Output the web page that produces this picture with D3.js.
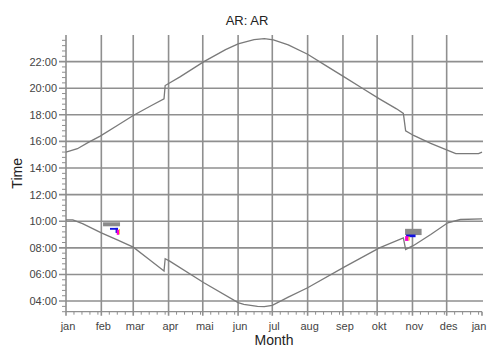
<!DOCTYPE html>
<html><head><meta charset="utf-8">
<script src="https://cdn.jsdelivr.net/npm/d3@7"></script>
<style>html,body{margin:0;padding:0;background:#fff;}svg{display:block;font-family:"Liberation Sans",Arial,sans-serif;}</style>
</head><body><svg id="c" width="488" height="347"></svg>
<script>
const monthLabels = ["jan","feb","mar","apr","mai","jun","jul","aug","sep","okt","nov","des","jan"];
const monthStartDays = [0,31,59,90,120,151,181,212,243,273,304,334,365];
const hourTicks = [4,6,8,10,12,14,16,18,20,22];
const hourLabels = ["04:00","06:00","08:00","10:00","12:00","14:00","16:00","18:00","20:00","22:00"];

// upper curve (day of year, hour)
const upperDays  = [0, 10, 20, 30, 45, 59, 75, 86, 87, 100, 121, 140, 151, 165, 174, 182, 195, 212, 228, 244, 260, 275, 290, 296, 298, 305, 320, 335, 342, 362, 365];
const upperHours = [15.2,15.45,15.95,16.4,17.2,17.95,18.7,19.2,20.2,20.85,22.0,22.9,23.33,23.65,23.72,23.63,23.25,22.55,21.7,20.85,20.0,19.2,18.45,18.1,16.8,16.45,15.85,15.33,15.08,15.08,15.2];
// lower curve
const lowerDays  = [0, 6, 15, 31, 45, 59, 75, 86, 87, 91, 121, 151, 156, 168, 174, 181, 195, 212, 244, 275, 296, 298, 305, 320, 335, 346, 365];
const lowerHours = [10.1,10.1,9.8,9.13,8.6,8.05,7.0,6.26,7.18,7.0,5.38,3.88,3.75,3.6,3.58,3.68,4.3,5.0,6.55,8.0,8.75,7.88,8.18,9.0,9.88,10.13,10.18];

// overlay blocks: [dayStart, dayEnd, hourLow, hourHigh]
const grayBlocks    = [[32.5,47.4,9.62,9.92],[297.5,312,8.96,9.43]];
const blueBlocks    = [[38.6,45.6,9.36,9.5],[43.5,45.6,9.12,9.5],[298.4,306.7,8.8,9.0]];
const magentaBlocks = [[44.5,46.8,8.98,9.36],[297.5,300.6,8.52,8.88]];
const yellowBlocks  = [[46.6,47.3,9.03,9.42],[300.6,301.6,8.55,8.85]];

const svg = d3.select("#c");
const x = d3.scaleLinear().domain([0,365]).range([66,482]);
const y = d3.scaleLinear().domain([3.2,24]).range([311.7,35]);
const gridCol = "#8f8f8f";

// minor x ticks: weekly from each month start
const minorX = [];
for (let i=0;i<12;i++){ for(let k=7;monthStartDays[i]+k<monthStartDays[i+1];k+=7) minorX.push(monthStartDays[i]+k); }
// minor y ticks every 24 min
const minorY = [];
for (let h=4; h<24; h+=2){ for(let k=1;k<5;k++){ const v=h+k*0.4; if(v<24) minorY.push(v);} }
for (let k=1;k<3;k++) minorY.push(4-k*0.4);

// horizontal gridlines
svg.append("g").selectAll("line").data(hourTicks).join("line")
  .attr("x1",x(0)-7).attr("x2",x(365)+1).attr("y1",d=>y(d)).attr("y2",d=>y(d))
  .attr("stroke",gridCol).attr("stroke-width",1.6);
// vertical gridlines
svg.append("g").selectAll("line").data(monthStartDays.slice(1,12)).join("line")
  .attr("x1",d=>x(d)).attr("x2",d=>x(d)).attr("y1",y(24)).attr("y2",y(3.2)+4)
  .attr("stroke",gridCol).attr("stroke-width",1.6);
// axes
const axisG = svg.append("g");
axisG.append("line").attr("x1",x(0)).attr("x2",x(0)).attr("y1",y(24)).attr("y2",y(3.2)+4).attr("stroke",gridCol).attr("stroke-width",1.6);
axisG.append("line").attr("x1",x(0)).attr("x2",x(365)).attr("y1",y(3.2)).attr("y2",y(3.2)).attr("stroke",gridCol).attr("stroke-width",1.2);
axisG.append("line").attr("x1",x(365)).attr("x2",x(365)).attr("y1",y(3.2)).attr("y2",y(3.2)+4).attr("stroke",gridCol).attr("stroke-width",1.6);
axisG.selectAll(".mx").data(minorX).join("line").attr("class","mx")
  .attr("x1",d=>x(d)).attr("x2",d=>x(d)).attr("y1",y(3.2)).attr("y2",y(3.2)+3)
  .attr("stroke",gridCol).attr("stroke-width",1);
axisG.selectAll(".my").data(minorY).join("line").attr("class","my")
  .attr("x1",x(0)-4).attr("x2",x(0)).attr("y1",d=>y(d)).attr("y2",d=>y(d))
  .attr("stroke",gridCol).attr("stroke-width",1);

// tick labels
svg.append("g").selectAll("text").data(hourTicks).join("text")
  .attr("x",57).attr("y",d=>y(d)+4).attr("text-anchor","end")
  .attr("font-size",11).attr("fill","#444").text((d,i)=>hourLabels[i]);
svg.append("g").selectAll("text").data(monthStartDays).join("text")
  .attr("x",(d,i)=>i===12 ? x(d)-3 : x(d)+2).attr("y",330).attr("text-anchor","middle")
  .attr("font-size",11).attr("fill","#444").text((d,i)=>monthLabels[i]);

// curves
const line = d3.line().x(d=>x(d[0])).y(d=>y(d[1]));
svg.append("path").datum(upperDays.map((d,i)=>[d,upperHours[i]])).attr("d",line)
  .attr("fill","none").attr("stroke","#7a7a7a").attr("stroke-width",1.3);
svg.append("path").datum(lowerDays.map((d,i)=>[d,lowerHours[i]])).attr("d",line)
  .attr("fill","none").attr("stroke","#7a7a7a").attr("stroke-width",1.3);

function blocks(data,col){
  svg.append("g").selectAll("rect").data(data).join("rect")
    .attr("x",d=>x(d[0])).attr("width",d=>x(d[1])-x(d[0]))
    .attr("y",d=>y(d[3])).attr("height",d=>y(d[2])-y(d[3])).attr("fill",col);
}
blocks(grayBlocks,"#8a8a8a");
blocks(blueBlocks,"#1010e0");
blocks(magentaBlocks,"#ff00d0");
blocks(yellowBlocks,"#f0e000");

// titles
svg.append("text").attr("x",247).attr("y",25).attr("text-anchor","middle").attr("font-size",13).attr("fill","#222").text("AR: AR");
svg.append("text").attr("x",(x(0)+x(365))/2).attr("y",345).attr("text-anchor","middle").attr("font-size",14).attr("fill","#222").text("Month");
svg.append("text").attr("transform",`translate(22,${(y(24)+y(3.2))/2}) rotate(-90)`).attr("text-anchor","middle").attr("font-size",14).attr("fill","#222").text("Time");
</script></body></html>
